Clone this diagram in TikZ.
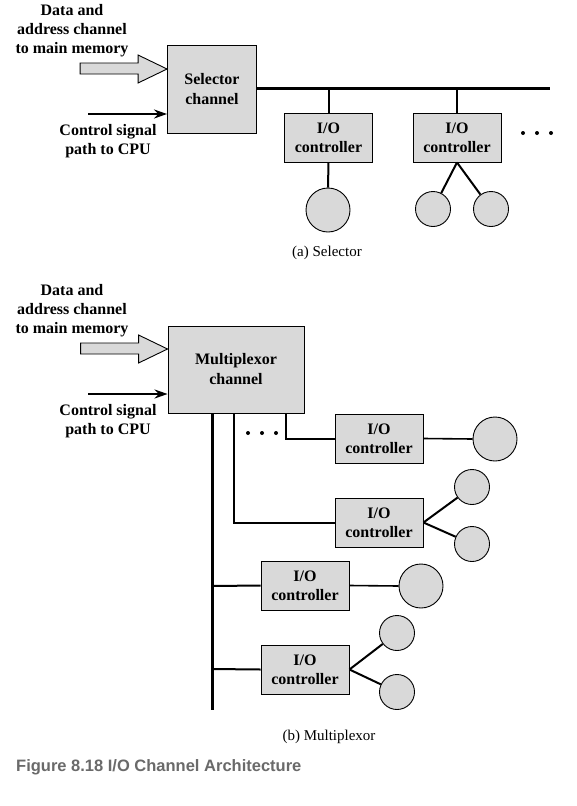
\documentclass[tikz,border=0pt]{standalone}
\usepackage{fontspec}
\setmainfont{Liberation Serif}
\newfontfamily\capfont{Liberation Sans}
\usetikzlibrary{arrows.meta}
\definecolor{boxgray}{HTML}{D9D9D9}
\definecolor{capgray}{HTML}{6A6A6A}
\begin{document}
\begin{tikzpicture}[x=1pt,y=-1pt,
  chan/.style={draw=black,line width=0.9pt,fill=boxgray,inner sep=0pt,minimum width=89pt,minimum height=88pt,align=center,font=\fontsize{16}{20}\selectfont\bfseries},
  ioc/.style={draw=black,line width=0.9pt,fill=boxgray,inner sep=0pt,minimum width=88pt,minimum height=49pt,align=center,font=\fontsize{16}{19}\selectfont\bfseries},
  dev/.style={circle,draw=black,line width=0.9pt,fill=boxgray,inner sep=0pt},
  bigdev/.style={dev,minimum size=44pt},
  smalldev/.style={dev,minimum size=35pt},
  lbl/.style={align=center,font=\fontsize{16}{19}\selectfont\bfseries,inner sep=0pt},
  sub/.style={font=\fontsize{15}{17}\selectfont,inner sep=0pt},
  bus/.style={line width=3pt},
  wire/.style={line width=2pt},
  ctrl/.style={line width=2pt,-{Stealth[length=13pt,width=9pt]}},
  fatarrow/.style={draw=black,line width=0.9pt,fill=boxgray},
  dot/.style={circle,fill=black,inner sep=0pt,minimum size=4pt}]
\useasboundingbox[fill=white] (0,0) rectangle (577,806);

% ================= (a) Selector =================
\node[lbl] (da) at (72,31) {Data and\\address channel\\to main memory};
\node[chan] (sel) at (212,89) {Selector\\channel};
\coordinate (selA) at (sel.west |- 0,69);
\coordinate (selC) at (sel.west |- 0,114);
\fill[fatarrow] (selA) -- ++(-29,-14) -- ++(0,8) -- ++(-58,0) -- ++(0,11) -- ++(58,0) -- ++(0,9) -- cycle;
\coordinate (ca0) at (88,114);
\draw[ctrl] (ca0) -- (selC);
\node[lbl] (cpa) at (108,141) {Control signal\\path to CPU};

\coordinate (busA) at (550,88);
\draw[bus] (sel.east |- 0,88) -- (busA);

\node[ioc] (ioa1) at (328.5,137.5) {I/O\\controller};
\node[ioc] (ioa2) at (457,137.5) {I/O\\controller};
\draw[wire] (ioa1.north |- 0,88) -- (ioa1.north);
\draw[wire] (ioa2.north |- 0,88) -- (ioa2.north);

\node[dot] (da1) at (523,133) {};
\node[dot] (da2) at (537,133) {};
\node[dot] (da3) at (551,133) {};

\node[bigdev] (dva1) at (328,210) {};
\node[smalldev] (dva2) at (433,209) {};
\node[smalldev] (dva3) at (491,209) {};
\draw[wire] (ioa1.south) -- (dva1.north);
\draw[wire] (ioa2.south) -- (dva2);
\draw[wire] (ioa2.south) -- (dva3);

\node[sub] (capa) at (327,253) {(a) Selector};

% ================= (b) Multiplexor =================
\node[lbl] (db) at (72,311) {Data and\\address channel\\to main memory};
\node[chan,minimum width=136pt,minimum height=87pt] (mux) at (236,369.5) {Multiplexor\\channel};
\coordinate (muxA) at (mux.west |- 0,349);
\coordinate (muxC) at (mux.west |- 0,394);
\fill[fatarrow] (muxA) -- ++(-29,-14) -- ++(0,8) -- ++(-58,0) -- ++(0,11) -- ++(58,0) -- ++(0,9) -- cycle;
\coordinate (cb0) at (88,394);
\draw[ctrl] (cb0) -- (muxC);
\node[lbl] (cpb) at (108,421) {Control signal\\path to CPU};

\coordinate (busB) at (212,710);
\draw[bus] (212,413) -- (busB);

\node[ioc] (iob1) at (379,438.5) {I/O\\controller};
\node[ioc] (iob2) at (379,522.5) {I/O\\controller};
\node[ioc] (iob3) at (305,585.5) {I/O\\controller};
\node[ioc] (iob4) at (305,669.5) {I/O\\controller};

\draw[wire] (286,413) |- (iob1.west);
\draw[wire] (234,413) |- (iob2.west);
\draw[wire] (212,586) -- (iob3.west);
\draw[wire] (212,669) -- (iob4.west);

\node[dot] (db1) at (248,433) {};
\node[dot] (db2) at (262,433) {};
\node[dot] (db3) at (276,433) {};

\node[bigdev] (dvb1) at (495,439) {};
\node[smalldev] (dvb2) at (472,487) {};
\node[smalldev] (dvb3) at (472,544) {};
\node[bigdev] (dvb4) at (421,586) {};
\node[smalldev] (dvb5) at (397,633) {};
\node[smalldev] (dvb6) at (397,692) {};

\draw[wire,line width=1.6pt] (iob1.east) -- (dvb1.west);
\draw[wire] (iob2.east) -- (dvb2);
\draw[wire] (iob2.east) -- (dvb3);
\draw[wire,line width=1.6pt] (iob3.east) -- (dvb4.west);
\draw[wire] (iob4.east) -- (dvb5);
\draw[wire] (iob4.east) -- (dvb6);

\node[sub] (capb) at (329,737) {(b) Multiplexor};

\node[anchor=west,inner sep=0pt,text=capgray,font=\capfont\fontsize{16.5}{18}\selectfont\bfseries] (fig) at (16,767) {Figure 8.18 I/O Channel Architecture};
\end{tikzpicture}
\end{document}
